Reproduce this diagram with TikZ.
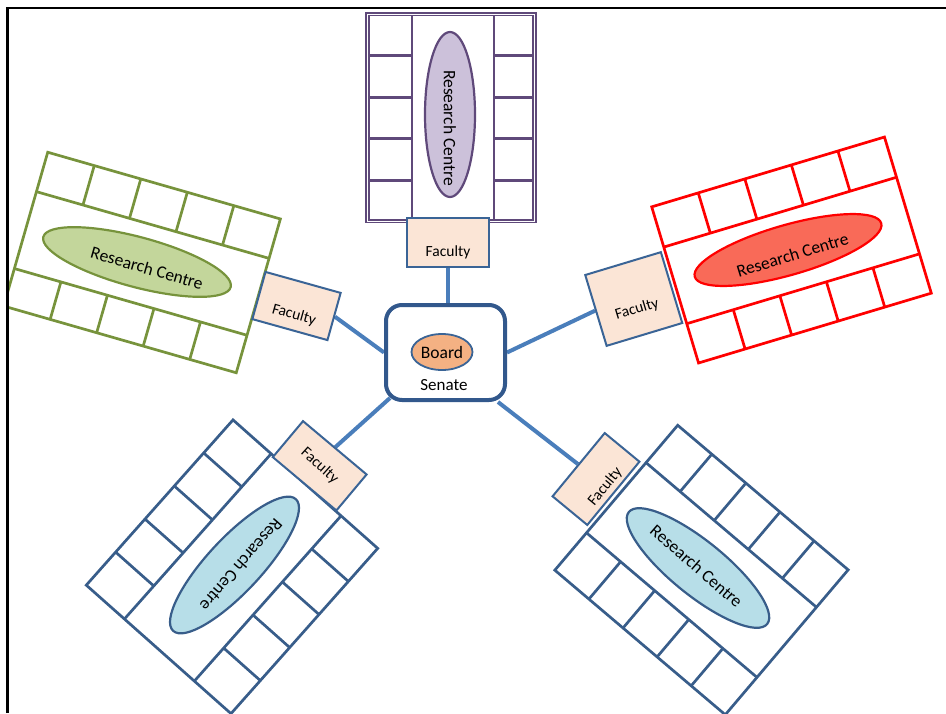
\documentclass[tikz,border=0pt]{standalone}
\usepackage{fontspec}
\setmainfont{Carlito}
\usetikzlibrary{shapes.geometric,calc,backgrounds}
\definecolor{grn}{RGB}{119,147,60}
\definecolor{grnfill}{RGB}{195,214,155}
\definecolor{prp}{RGB}{95,73,122}
\definecolor{prpfill}{RGB}{204,193,218}
\definecolor{redline}{RGB}{255,0,0}
\definecolor{redfill}{RGB}{249,106,88}
\definecolor{blu}{RGB}{56,93,138}
\definecolor{blufill}{RGB}{183,222,232}
\definecolor{facfill}{RGB}{251,229,214}
\definecolor{facdraw}{RGB}{58,100,150}
\definecolor{boardfill}{RGB}{244,177,131}
\definecolor{senatedraw}{RGB}{50,88,140}
\definecolor{linkblue}{RGB}{74,126,187}

% cx cy angle L D r1 r2 colour
\newcommand\drawbuilding[8]{%
 \begin{scope}[shift={(#1,#2)},rotate=#3]
  \draw[bline,draw=#8] ({-#4/2},{-#5/2}) rectangle ({#4/2},{#5/2});
  \draw[bline,draw=#8] ({-#4/2},{-#5/2+#6}) -- ({#4/2},{-#5/2+#6});
  \draw[bline,draw=#8] ({-#4/2},{#5/2-#7}) -- ({#4/2},{#5/2-#7});
  \foreach \kk in {1,2,3,4}{
   \draw[bline,draw=#8] ({-#4/2+\kk*#4/5},{-#5/2}) -- ++(0,#6);
   \draw[bline,draw=#8] ({-#4/2+\kk*#4/5},{#5/2}) -- ++(0,-#7);
  }
 \end{scope}}

\begin{document}
\begin{tikzpicture}[x=1pt,y=-1pt,
  bline/.style={line width=2.7pt},
  fac/.style={draw=facdraw,fill=facfill,line width=2pt,inner sep=0pt},
  rc/.style={ellipse,inner sep=0pt,line width=2.2pt},
  link/.style={draw=linkblue,line width=4pt},
  rctext/.style={font=\fontsize{17.5pt}{20pt}\selectfont},
  factext/.style={font=\fontsize{15.5pt}{18pt}\selectfont}]
\useasboundingbox (0,0) rectangle (946,713);

\begin{scope}
 \clip (8.5,9) rectangle (946,713);
 \drawbuilding{451}{118}{90}{208}{168}{45}{41}{prp}
 \draw[prp,line width=1.6pt,double=white,double distance=0.9pt] (367.5,14) rectangle (534.5,221);
 \drawbuilding{142}{262.5}{-16}{242}{160}{41}{39}{grn}
 \drawbuilding{791.5}{250}{16.7}{243}{163}{42}{41}{redline}
 \drawbuilding{232}{566.75}{48.4}{221}{193.5}{51}{49}{blu}
 \drawbuilding{701.5}{570}{-40.3}{223.5}{190}{49}{49}{blu}
\end{scope}

% research centres
\node[rc,draw=prp,fill=prpfill,minimum width=50pt,minimum height=165pt] (rc1) at (450,114.5) {};
\node[rctext,rotate=-90] (rt1) at (450,128) {Research Centre};
\node[rc,draw=grn,fill=grnfill,minimum width=194pt,minimum height=50pt,rotate=-15] (rc2) at (137,262) {};
\node[rctext,rotate=-16] (rt2) at (147,268) {Research Centre};
\node[rc,draw=redline,fill=redfill,minimum width=194pt,minimum height=50pt,rotate=16] (rc3) at (788,250) {};
\node[rctext,rotate=17] (rt3) at (792.5,255) {Research Centre};
\node[rc,draw=blu,fill=blufill,minimum width=180pt,minimum height=54pt,rotate=47] (rc4) at (234.5,565) {};
\node[rctext,rotate=-131] (rt4) at (241.5,565) {Research Centre};
\node[rc,draw=blu,fill=blufill,minimum width=178pt,minimum height=54pt,rotate=-39] (rc5) at (698,568) {};
\node[rctext,rotate=-41] (rt5) at (696.5,566) {Research Centre};

% faculties
\node[fac,minimum width=82pt,minimum height=49pt] (f1) at (448,242.5) {};
\node[factext] (ft1) at ($(f1.center)!9.5pt!(f1.south)$) {Faculty};
\node[fac,minimum width=78pt,minimum height=49pt,rotate=-15.6] (f2) at (296.5,306) {};
\node[factext,rotate=-15.6] (ft2) at ($(f2.center)!9.5pt!(f2.south)$) {Faculty};
\node[fac,minimum width=79pt,minimum height=74pt,rotate=16.8] (f3) at (633.75,299) {};
\node[factext,rotate=16.8] (ft3) at ($(f3.center)!11pt!(f3.south)$) {Faculty};
\node[fac,minimum width=83pt,minimum height=47pt,rotate=-40] (f4) at (319.7,465.8) {};
\node[factext,rotate=-42] (ft4) at (f4.center) {Faculty};
\node[fac,minimum width=82pt,minimum height=45pt,rotate=50.5] (f5) at (596,479) {};
\node[factext,rotate=50.5] (ft5) at ($(f5.center)!12pt!(f5.south)$) {Faculty};

% senate
\node[draw=senatedraw,line width=4pt,rounded corners=16pt,fill=white,minimum width=119pt,minimum height=95pt] (senate) at (445.5,352.5) {};
\node[ellipse,draw=facdraw,fill=boardfill,line width=1.8pt,minimum width=61pt,minimum height=36pt,inner sep=0pt,font=\fontsize{17.5pt}{20pt}\selectfont] (board) at (442,352) {Board};
\node[font=\fontsize{17pt}{20pt}\selectfont] (senatelabel) at (444,385) {Senate};

\begin{scope}[on background layer]
 \draw[link] (f1.south) -- (f1.south |- senate.north);
 \draw[link] (f2.east) -- (senate.west);
 \draw[link] (f3.west) -- (senate.east);
 \draw[link] (f4.north) -- ($(senate.south west)+(6,-4)$);
 \draw[link] (f5.north) -- ($(senate.south east)+(-9,0)$);
\end{scope}

% frame
\draw[line width=2.3pt] (7.4,713) -- (7.4,8) -- (946,8);
\end{tikzpicture}
\end{document}
